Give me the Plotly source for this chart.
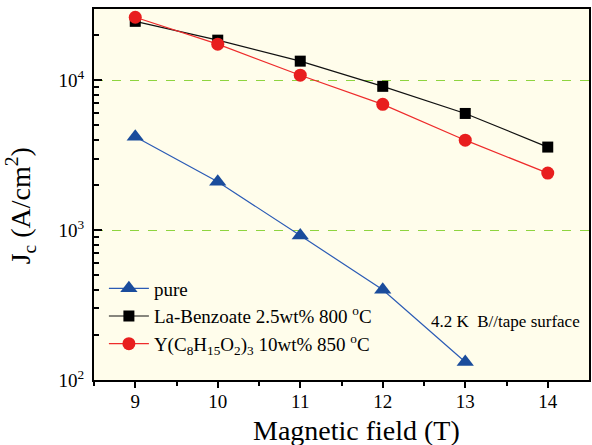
import plotly.graph_objects as go

field = [9, 10, 11, 12, 13, 14]
pure_x = [9, 10, 11, 12, 13]
pure_jc = [4200, 2100, 920, 400, 132]
la_jc = [24700, 18500, 13400, 9100, 6000, 3580]
y_jc = [26300, 17400, 10800, 6900, 3980, 2400]

x_ticks = [9, 10, 11, 12, 13, 14]
y_ticks = [100, 1000, 10000]
y_ticktext = ["10<sup>2</sup>", "10<sup>3</sup>", "10<sup>4</sup>"]
y_minor = [m * d for d in (100, 1000, 10000) for m in range(2, 10) if m * d < 30000]

SERIF = "Times New Roman, Liberation Serif, serif"

fig = go.Figure()
fig.add_trace(go.Scatter(
    x=pure_x, y=pure_jc, mode="lines+markers", name="pure",
    line=dict(color="#2B5BB5", width=1.2),
    marker=dict(symbol="triangle-up", size=15, color="#1A4C9C"),
))
fig.add_trace(go.Scatter(
    x=field, y=la_jc, mode="lines+markers", name="La-Benzoate 2.5wt% 800 <sup>o</sup>C",
    line=dict(color="#111111", width=1.2),
    marker=dict(symbol="square", size=11, color="#000000"),
))
fig.add_trace(go.Scatter(
    x=field, y=y_jc, mode="lines+markers",
    name="Y(C<sub>8</sub>H<sub>15</sub>O<sub>2</sub>)<sub>3</sub> 10wt% 850 <sup>o</sup>C",
    line=dict(color="#EE2B2B", width=1.2),
    marker=dict(symbol="circle", size=13, color="#E81E1E"),
))

fig.update_layout(
    width=592, height=445,
    margin=dict(l=94, r=1, t=9, b=65),
    paper_bgcolor="white",
    plot_bgcolor="#FFFDEB",
    font=dict(family=SERIF, color="black", size=16),
    showlegend=True,
    legend=dict(
        x=0.02, y=0.298, xanchor="left", yanchor="top",
        bgcolor="rgba(0,0,0,0)", font=dict(family=SERIF, size=19, color="black"),
        tracegroupgap=0, itemwidth=40,
    ),
    xaxis=dict(
        range=[8.5, 14.5], tickmode="array", tickvals=x_ticks,
        ticks="outside", ticklen=6, tickwidth=1.5, tickcolor="black",
        showline=True, linecolor="black", linewidth=2, mirror=True,
        showgrid=False, zeroline=False, ticklabelstandoff=-3,
        tickfont=dict(family=SERIF, size=19),
        minor=dict(ticks="outside", ticklen=4, tickwidth=1.5, tickcolor="black",
                   tickmode="array", tickvals=[8.5, 9.5, 10.5, 11.5, 12.5, 13.5]),
    ),
    yaxis=dict(
        type="log", range=[2, 4.475], tickmode="array", tickvals=y_ticks, ticktext=y_ticktext,
        ticks="inside", ticklen=8, tickwidth=1.5, tickcolor="black",
        showline=True, linecolor="black", linewidth=2, mirror=True,
        showgrid=True, gridcolor="#8ED43F", griddash="dash", gridwidth=1,
        zeroline=False, ticklabelstandoff=4,
        tickfont=dict(family=SERIF, size=19),
        minor=dict(ticks="inside", ticklen=5, tickwidth=1.5, tickcolor="black",
                   tickmode="array", tickvals=y_minor, showgrid=False),
    ),
    annotations=[
        dict(text="Magnetic field (T)", xref="paper", yref="paper", x=0.53, y=-0.135,
             xanchor="center", yanchor="middle", showarrow=False,
             font=dict(family=SERIF, size=28, color="black")),
        dict(text="J<sub>c</sub> (A/cm<sup>2</sup>)", xref="paper", yref="paper",
             x=-0.148, y=0.47, xanchor="center", yanchor="middle", textangle=-90,
             showarrow=False, font=dict(family=SERIF, size=28, color="black")),
        dict(text="4.2 K  B//tape surface", xref="x", yref="y", x=13.49, y=2.387,
             xanchor="center", yanchor="middle", showarrow=False,
             font=dict(family=SERIF, size=17, color="black")),
    ],
)

fig.write_html("out.html")
